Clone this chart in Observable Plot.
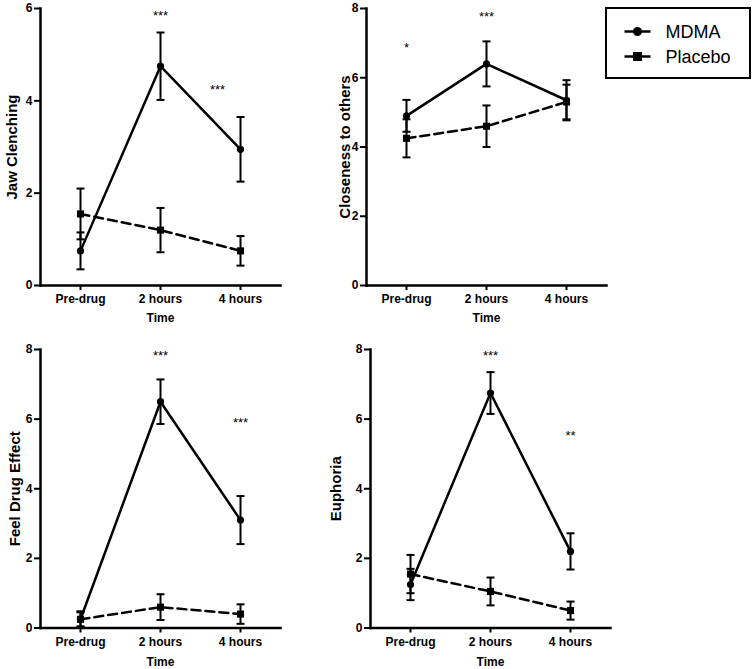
<!DOCTYPE html>
<html><head><meta charset="utf-8">
<script src="https://cdn.jsdelivr.net/npm/d3@7"></script>
<script src="https://cdn.jsdelivr.net/npm/@observablehq/plot@0.6"></script>
<style>
body{margin:0;background:#fff;}
#root{position:relative;width:754px;height:669px;font-family:"Liberation Sans",Arial,sans-serif;background:#fff;}
.panel{position:absolute;}
.panel svg{overflow:visible;}
#legend{position:absolute;left:605px;top:7px;width:146px;height:72px;box-sizing:border-box;border:2.5px solid #000;background:#fff;}
</style>
</head><body>
<div id="root"><div id="legend"></div></div>
<script>
// ---- data ----
const times = ["Pre-drug", "2 hours", "4 hours"];

const jawMdma = [0.75, 4.75, 2.95];
const jawMdmaErr = [0.4, 0.73, 0.7];
const jawPlacebo = [1.55, 1.2, 0.75];
const jawPlaceboErr = [0.55, 0.48, 0.32];
const jawStars = [{time: "2 hours", y: 5.85, label: "***"}, {time: "4 hours", y: 4.24, label: "***"}];

const closeMdma = [4.9, 6.4, 5.35];
const closeMdmaErr = [0.46, 0.65, 0.58];
const closePlacebo = [4.25, 4.6, 5.3];
const closePlaceboErr = [0.55, 0.6, 0.5];
const closeStars = [{time: "Pre-drug", y: 6.85, label: "*"}, {time: "2 hours", y: 7.75, label: "***"}];

const feelMdma = [0.25, 6.5, 3.1];
const feelMdmaErr = [0.23, 0.64, 0.69];
const feelPlacebo = [0.25, 0.6, 0.4];
const feelPlaceboErr = [0.2, 0.37, 0.28];
const feelStars = [{time: "2 hours", y: 7.83, label: "***"}, {time: "4 hours", y: 5.9, label: "***"}];

const euphMdma = [1.25, 6.75, 2.2];
const euphMdmaErr = [0.45, 0.6, 0.52];
const euphPlacebo = [1.55, 1.05, 0.5];
const euphPlaceboErr = [0.55, 0.4, 0.26];
const euphStars = [{time: "2 hours", y: 7.83, label: "***"}, {time: "4 hours", y: 5.53, label: "**"}];

const groups = ["MDMA", "Placebo"];
const ticks6 = [0, 2, 4, 6];
const ticks8 = [0, 2, 4, 6, 8];

// ---- drawing ----
const FONT = '"Liberation Sans", Arial, sans-serif';
const capSymbol = {draw(ctx) { ctx.moveTo(-4, 0); ctx.lineTo(4, 0); }};

function rows(vals, errs, group) {
  return times.map((t, i) => ({time: t, value: vals[i], lo: vals[i] - errs[i], hi: vals[i] + errs[i], group}));
}

function panel(c) {
  const m = rows(c.mdma, c.mdmaErr, groups[0]);
  const p = rows(c.placebo, c.placeboErr, groups[1]);
  const all = [...m, ...p];
  const shifted = c.shiftTime ? c.stars.filter((d) => d.time === c.shiftTime) : [];
  const plain = c.stars.filter((d) => !shifted.includes(d));
  return Plot.plot({
    width: c.width, height: c.height,
    marginLeft: c.ml, marginRight: c.mr, marginTop: c.mt, marginBottom: c.mb,
    x: {type: "point", domain: times, padding: 0.5},
    y: {domain: [0, c.yMax]},
    style: {fontFamily: FONT, fontSize: "12px", fontWeight: "bold", color: "#000", background: "transparent", overflow: "visible"},
    marks: [
      Plot.ruleX(all, {x: "time", y1: "lo", y2: "hi", strokeWidth: 2, stroke: "#000"}),
      Plot.dot(all, {x: "time", y: "lo", symbol: capSymbol, fill: "none", stroke: "#000", strokeWidth: 2}),
      Plot.dot(all, {x: "time", y: "hi", symbol: capSymbol, fill: "none", stroke: "#000", strokeWidth: 2}),
      Plot.line(p, {x: "time", y: "value", strokeWidth: 2.5, stroke: "#000", strokeDasharray: "9,5"}),
      Plot.line(m, {x: "time", y: "value", strokeWidth: 2.5, stroke: "#000"}),
      Plot.dot(p, {x: "time", y: "value", symbol: "square", r: 4, fill: "#000", stroke: "none"}),
      Plot.dot(m, {x: "time", y: "value", symbol: "circle", r: 3.6, fill: "#000", stroke: "none"}),
      Plot.text(plain, {x: "time", y: "y", text: "label", fontSize: 13, fontWeight: "normal", fill: "#000"}),
      Plot.text(shifted, {x: "time", y: "y", text: "label", dx: c.shiftDx || 0, fontSize: 13, fontWeight: "normal", fill: "#000"}),
      Plot.frame({anchor: "left", strokeWidth: 2.5, stroke: "#000"}),
      Plot.frame({anchor: "bottom", strokeWidth: 2.5, stroke: "#000"}),
      Plot.axisY({ticks: c.yTicks, tickFormat: (d) => String(d), tickSize: 6, tickPadding: 2, strokeWidth: 2, label: null, fontWeight: "bold", fontSize: 12}),
      Plot.axisX({tickSize: 5, tickPadding: 4, strokeWidth: 2, label: null, fontWeight: "bold", fontSize: 12}),
      Plot.text([c.label], {frameAnchor: "left", textAnchor: "middle", lineAnchor: "middle", rotate: -90, dx: -c.labelDx, fontSize: 15, fontWeight: "bold", fill: "#000"}),
      Plot.text(["Time"], {frameAnchor: "bottom", textAnchor: "middle", lineAnchor: "middle", dy: c.timeDy, fontSize: 12, fontWeight: "bold", fill: "#000"})
    ]
  });
}

const panels = [
  {label: "Jaw Clenching", mdma: jawMdma, mdmaErr: jawMdmaErr, placebo: jawPlacebo, placeboErr: jawPlaceboErr,
   stars: jawStars, shiftTime: "4 hours", shiftDx: -23, yMax: 6, yTicks: ticks6, left: 0, top: 0, width: 300, height: 330,
   ml: 40, mr: 20, mt: 8, mb: 45, labelDx: 28, timeDy: 33},
  {label: "Closeness to others", mdma: closeMdma, mdmaErr: closeMdmaErr, placebo: closePlacebo, placeboErr: closePlaceboErr,
   stars: closeStars, yMax: 8, yTicks: ticks8, left: 326, top: 0, width: 300, height: 330,
   ml: 40, mr: 20, mt: 8, mb: 45, labelDx: 21, timeDy: 33},
  {label: "Feel Drug Effect", mdma: feelMdma, mdmaErr: feelMdmaErr, placebo: feelPlacebo, placeboErr: feelPlaceboErr,
   stars: feelStars, yMax: 8, yTicks: ticks8, left: 0, top: 330, width: 300, height: 339,
   ml: 40, mr: 20, mt: 19, mb: 41.5, labelDx: 25, timeDy: 34},
  {label: "Euphoria", mdma: euphMdma, mdmaErr: euphMdmaErr, placebo: euphPlacebo, placeboErr: euphPlaceboErr,
   stars: euphStars, yMax: 8, yTicks: ticks8, left: 330, top: 330, width: 300, height: 339,
   ml: 40, mr: 20, mt: 19, mb: 41.5, labelDx: 34, timeDy: 34}
];

const root = document.getElementById("root");
for (const c of panels) {
  const wrap = document.createElement("div");
  wrap.className = "panel";
  wrap.style.left = c.left + "px";
  wrap.style.top = c.top + "px";
  wrap.appendChild(panel(c));
  root.appendChild(wrap);
}

// ---- legend ----
const lg = d3.select("#legend").append("svg").attr("width", 141).attr("height", 67)
  .style("position", "absolute").style("left", 0).style("top", 0);
groups.forEach((g, i) => {
  const y = 22.5 + i * 25;
  lg.append("line").attr("x1", 17.5).attr("x2", 43.5).attr("y1", y).attr("y2", y).attr("stroke", "#000").attr("stroke-width", 2.5);
  if (i === 0) lg.append("circle").attr("cx", 30.5).attr("cy", y).attr("r", 4.5).attr("fill", "#000");
  else lg.append("rect").attr("x", 26).attr("y", y - 4.5).attr("width", 9).attr("height", 9).attr("fill", "#000");
  lg.append("text").attr("x", 58.5).attr("y", y).attr("dy", "0.35em").attr("font-family", FONT).attr("font-size", 18).text(g);
});
</script>
</body></html>
